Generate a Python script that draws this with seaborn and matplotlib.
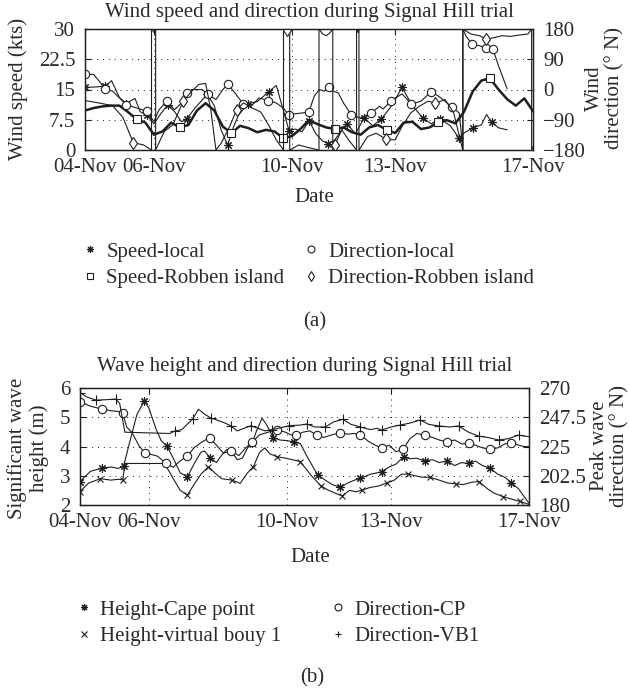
import numpy as np
import pandas as pd
import matplotlib
matplotlib.use('Agg')
import matplotlib.pyplot as plt
import matplotlib.dates as mdates
from matplotlib.lines import Line2D
import seaborn as sns

# ---- time base (days after 04-Nov) ----
start = pd.Timestamp('2008-11-04')
date_ticks = ['2008-11-04', '2008-11-06', '2008-11-10', '2008-11-13', '2008-11-17']

# ---- (a) wind ----
speed_local_t = [0.0, 0.25, 0.58, 0.77, 1.0, 1.2, 1.45, 1.6, 1.8, 2.0, 2.2, 2.4, 2.6, 2.8, 2.95,
                 3.2, 3.55, 3.75, 3.95, 4.14, 4.3, 4.45, 4.73, 5.0, 5.34, 5.55, 5.75, 5.92, 6.1,
                 6.3, 6.5, 6.7, 6.9, 7.05, 7.25, 7.45, 7.6, 7.85, 8.1, 8.35, 8.6, 8.9, 9.2, 9.5,
                 9.8, 10.05, 10.3, 10.6, 10.85, 11.0, 11.25, 11.5, 11.65, 11.8, 12.0, 12.25]
speed_local_v = [15.5, 15.6, 15.8, 17.2, 13.0, 11.5, 12.8, 9.5, 8.6, 6.5, 9.0, 11.2, 9.5, 7.0, 7.7,
                 10.5, 13.8, 11.0, 5.0, 1.2, 5.5, 8.6, 11.5, 12.0, 14.5, 16.0, 10.0, 4.8, 5.2,
                 4.5, 7.3, 4.0, 2.2, 1.6, 2.5, 5.0, 6.5, 4.0, 8.0, 6.0, 7.7, 11.0, 15.5, 11.0,
                 8.0, 6.5, 7.8, 6.0, 3.0, 4.2, 5.5, 6.2, 8.8, 6.9, 5.5, 5.0]
speed_local_marks = [0.0, 0.58, 1.2, 1.8, 2.4, 2.95, 3.55, 4.14, 4.73, 5.34, 5.92, 6.5, 7.05,
                     7.6, 8.1, 8.6, 9.2, 9.8, 10.3, 10.85, 11.25, 11.8]

speed_rob_t = np.arange(0, 13.01, 0.25)
speed_rob_v = [9.8, 10.4, 10.8, 11.0, 11.0, 9.4, 7.6, 6.8, 3.8, 4.6, 6.8, 5.6, 6.2, 9.8, 11.6,
               9.8, 5.8, 4.2, 6.0, 5.4, 4.4, 5.0, 4.6, 3.0, 3.4, 5.2, 7.4, 6.4, 5.6, 5.2, 5.6,
               4.4, 3.8, 5.6, 6.2, 5.0, 4.2, 6.8, 7.0, 5.2, 5.6, 6.9, 7.4, 6.6, 9.5, 14.5, 17.2,
               17.8, 15.0, 12.6, 11.0, 12.8, 9.6]
speed_rob_marks = [1.5, 2.75, 4.25, 5.75, 7.25, 8.75, 10.25, 11.75]

dir_local_t = [0.0, 0.25, 0.45, 0.58, 0.8, 1.0, 1.2, 1.5, 1.79, 2.0, 2.15, 2.37, 2.6, 2.8, 2.95,
               3.1, 3.4, 3.56, 3.8, 4.0, 4.15, 4.35, 4.59, 4.8, 5.05, 5.31, 5.55, 5.75, 5.92,
               6.1, 6.3, 6.5, 6.65, 6.8, 6.95, 7.08, 7.2, 7.35, 7.5, 7.73, 8.0, 8.3, 8.55, 8.65,
               8.89, 9.2, 9.47, 9.75, 10.05, 10.3, 10.66, 10.86, 10.97, 10.97, 11.05, 11.23,
               11.45, 11.64, 11.84, 12.0, 12.25]
dir_local_v = [45, 45, 20, 1, -5, -25, -45, -55, -65, -95, -60, -35, -60, -40, -10,
               0, 0, -14, -30, 0, 15, -10, -43, -52, -25, -33, -40, -55, -76,
               -72, -70, -66, -20, 0, -5, 7, -5, -10, -40, -76, -85, -70, -50, -58,
               -33, -13, -43, -35, -6, -23, -53, -70, -180, 180, 160, 134,
               130, 124, 120, 70, 2]
dir_local_marks = [0.0, 0.58, 1.2, 1.79, 2.37, 2.95, 3.56, 4.15, 4.59, 5.31, 5.92, 6.5, 7.08,
                   7.73, 8.3, 8.89, 9.47, 10.05, 10.66, 11.23, 11.64, 11.84]

dir_rob_t = [0.0, 0.4, 0.8, 1.1, 1.4, 1.7, 1.93, 1.93, 2.0, 2.05, 2.05, 2.3, 2.55, 2.85, 3.1,
             3.3, 3.5, 3.65, 3.8, 3.95, 4.2, 4.4, 4.6, 4.85, 5.1, 5.35, 5.55, 5.76, 5.76, 5.85,
             5.94, 5.94, 6.2, 6.45, 6.79, 6.79, 6.9, 7.0, 7.1, 7.19, 7.19, 7.25, 7.45, 7.65,
             7.88, 7.88, 7.92, 7.95, 7.95, 8.2, 8.45, 8.74, 9.0, 9.2, 9.45, 9.7, 9.95, 10.17,
             10.45, 10.7, 10.96, 10.96, 11.2, 11.45, 11.65, 11.9, 12.1, 12.35, 12.6, 12.85,
             12.96, 12.96, 13.0]
dir_rob_v = [-33, -40, -48, -83, -158, -165, -180, 180, 170, 180, -180, -125, -105, -35, -5,
             15, 18, -60, -180, -160, -110, -60, -40, -55, -67, -110, -150, -180, 180, 176,
             180, -180, -165, -172, -180, 180, 165, 160, 168, 180, -180, -165, -120, -150,
             -180, 180, 170, 180, -180, -140, -130, -148, -150, -110, -70, -50, -35, -40,
             -30, -70, -180, 180, 165, 160, 150, 155, 160, 158, 162, 165,
             180, -180, -170]
dir_rob_marks = [1.4, 2.85, 4.4, 5.85, 7.25, 8.74, 10.17, 11.65]

# ---- (b) waves ----
h_cp_t = [0.0, 0.3, 0.64, 0.9, 1.1, 1.26, 1.45, 1.65, 1.86, 2.0, 2.2, 2.35, 2.51, 2.7, 2.9, 3.11,
          3.3, 3.5, 3.6, 3.77, 3.95, 4.1, 4.25, 4.38, 4.55, 4.7, 4.85, 4.99, 5.1, 5.27, 5.4, 5.6,
          5.8, 6.0, 6.2, 6.38, 6.6, 6.88, 7.1, 7.3, 7.54, 7.75, 7.95, 8.12, 8.4, 8.6, 8.74, 8.95,
          9.15, 9.37, 9.55, 9.75, 9.99, 10.2, 10.4, 10.62, 10.85, 11.05, 11.25, 11.45, 11.65,
          11.88, 12.1, 12.3, 12.49, 12.7, 12.85, 13.0]
h_cp_v = [2.80, 3.15, 3.26, 3.30, 3.25, 3.32, 4.2, 5.1, 5.56, 5.3, 4.6, 4.2, 4.03, 3.6, 3.1, 2.96,
          3.4, 3.8, 3.85, 3.62, 3.45, 3.7, 3.9, 3.85, 3.55, 3.6, 3.95, 4.13, 4.5, 4.97, 4.75, 4.3,
          4.22, 4.2, 4.15, 4.1, 3.6, 3.03, 2.85, 2.7, 2.6, 2.75, 2.85, 2.91, 3.05, 3.1, 3.14, 3.3,
          3.4, 3.65, 3.58, 3.6, 3.5, 3.55, 3.45, 3.5, 3.35, 3.45, 3.42, 3.5, 3.35,
          3.25, 3.05, 2.95, 2.76, 2.55, 2.3, 2.06]
h_cp_marks = [0.0, 0.64, 1.26, 1.86, 2.51, 3.11, 3.77, 4.38, 4.99, 5.6, 6.2, 6.88, 7.54, 8.12,
              8.74, 9.37, 9.99, 10.62, 11.25, 11.88, 12.49]

h_vb_t = [0.0, 0.25, 0.59, 0.9, 1.1, 1.24, 1.3, 2.45, 2.7, 2.9, 3.11, 3.3, 3.5, 3.72, 3.9, 4.1,
          4.4, 4.64, 4.85, 5.02, 5.2, 5.35, 5.5, 5.7, 5.95, 6.15, 6.38, 6.7, 6.98, 7.2, 7.4, 7.59,
          7.8, 8.0, 8.16, 8.4, 8.65, 8.89, 9.1, 9.3, 9.5, 9.7, 9.9, 10.13, 10.4, 10.65, 10.9,
          11.1, 11.35, 11.55, 11.8, 12.0, 12.26, 12.5, 12.75, 13.0]
h_vb_v = [2.46, 2.75, 2.90, 2.85, 2.88, 2.86, 3.42, 3.42, 2.9, 2.5, 2.34, 2.7, 3.05, 3.31, 3.1, 2.9,
          2.85, 2.74, 3.1, 3.31, 3.8, 3.95, 3.75, 3.65, 3.6, 3.55, 3.48, 3.0, 2.65, 2.5, 2.4, 2.31,
          2.5, 2.45, 2.51, 2.6, 2.65, 2.76, 2.85, 3.05, 3.06, 3.0, 2.95, 2.95, 2.85, 2.75, 2.72,
          2.7, 2.78, 2.8, 2.55, 2.4, 2.28, 2.2, 2.12, 2.02]
h_vb_marks = [0.0, 0.59, 1.24, 3.11, 3.72, 4.4, 5.02, 5.7, 6.38, 6.98, 7.59, 8.16, 8.89, 9.5,
              10.13, 10.9, 11.55, 12.26, 12.75]

d_cp_t = [0.0, 0.3, 0.63, 0.9, 1.1, 1.24, 1.35, 1.5, 1.7, 1.88, 2.05, 2.25, 2.49, 2.7, 2.9, 3.11,
          3.3, 3.5, 3.75, 3.95, 4.15, 4.38, 4.6, 4.8, 4.99, 5.2, 5.45, 5.7, 5.95, 6.1, 6.26, 6.45,
          6.65, 6.86, 7.05, 7.3, 7.52, 7.75, 7.95, 8.12, 8.35, 8.55, 8.74, 8.95, 9.15, 9.36, 9.55,
          9.75, 9.99, 10.2, 10.4, 10.62, 10.85, 11.05, 11.25, 11.45, 11.65, 11.88, 12.1, 12.3,
          12.49, 12.7, 12.85, 13.0]
d_cp_v = [259.5, 256, 253.8, 252.5, 252, 250.8, 240, 236, 226, 219.7, 219, 217.5, 212, 209, 214,
          217.5, 224, 228, 231.8, 226, 220, 221.5, 218, 224, 228.5, 234, 236, 238, 236, 234, 233.5,
          236, 237, 233.8, 232, 234, 235.6, 234.5, 235, 233.8, 229, 226, 223.6, 226, 221, 222.8,
          231, 235, 233.8, 232, 230, 228.7, 230, 227, 227.4, 226, 224, 222.8, 224, 227,
          228, 226, 225, 224.9]
d_cp_marks = [0.0, 0.63, 1.24, 1.88, 2.49, 3.11, 3.75, 4.38, 4.99, 5.7, 6.26, 6.86, 7.52, 8.12,
              8.74, 9.36, 9.99, 10.62, 11.25, 11.88, 12.49]

d_vb_t = [0.0, 0.2, 0.47, 0.75, 1.04, 1.15, 1.3, 2.6, 2.75, 2.95, 3.1, 3.26, 3.43, 3.6, 3.78, 4.0,
          4.2, 4.36, 4.55, 4.75, 4.95, 5.15, 5.36, 5.55, 5.7, 5.9, 6.06, 6.38, 6.57, 6.8, 7.1,
          7.35, 7.61, 7.85, 8.12, 8.4, 8.6, 8.74, 9.0, 9.27, 9.55, 9.85, 10.1, 10.39, 10.7,
          10.96, 11.25, 11.54, 11.8, 12.12, 12.4, 12.7, 12.85, 13.0]
d_vb_v = [266.5, 263, 260.7, 261, 261.5, 258, 236, 235, 237, 238, 242, 246, 253.7, 250, 247, 245,
          243, 241, 237, 239, 241, 239, 237, 238, 238.7, 240, 241, 241.5, 242.3, 240, 240,
          244, 245.9, 242, 240, 238, 239, 237.7, 240, 241.5, 243, 245.4, 242, 240.8, 240,
          240.8, 236, 233, 232, 230, 231, 233.8, 233, 232.6]
d_vb_marks = [0.0, 0.47, 1.04, 2.75, 3.26, 3.78, 4.36, 4.95, 5.55, 6.06, 6.57, 7.1, 7.61, 8.12,
              8.74, 9.27, 9.85, 10.39, 10.96, 11.54, 12.12, 12.7]

wind_left_ticks = [0, 7.5, 15, 22.5, 30]
wind_left_labels = ['0', '7.5', '15', '22.5', '30']
wind_right_ticks = [-180, -90, 0, 90, 180]
wind_right_labels = ['\u2212180', '\u221290', '0', '90', '180']
wave_left_ticks = [2, 3, 4, 5, 6]
wave_right_ticks = [180, 202.5, 225, 247.5, 270]
wave_right_labels = ['180', '202.5', '225', '247.5', '270']

legend_a = ['Speed-local', 'Speed-Robben island', 'Direction-local', 'Direction-Robben island']
legend_b = ['Height-Cape point', 'Height-virtual bouy 1', 'Direction-CP', 'Direction-VB1']

# ---- style ----
sns.set_style('white')
plt.rcParams['font.family'] = ['Liberation Serif', 'DejaVu Serif']
plt.rcParams['font.size'] = 15
ink = '#1e1e1e'
txt = '#2a2a2a'
ASTER = (8, 2, 0)

W, H = 629, 693
fig = plt.figure(figsize=(W / 100, H / 100), dpi=100)
fig.patch.set_facecolor('white')


def to_dates(t):
    return start + pd.to_timedelta(np.asarray(t, dtype=float) * 24, unit='h')


def draw(ax, t, v, marks, marker, lw=0.8, ms=5.5):
    df = pd.DataFrame({'date': to_dates(t), 'value': v})
    idx = [int(i) for i in np.flatnonzero(np.isin(np.asarray(t, dtype=float), marks))]
    sns.lineplot(data=df, x='date', y='value', ax=ax, estimator=None, sort=False,
                 color=ink, linewidth=lw, marker=marker, markevery=idx, markersize=ms,
                 markerfacecolor='white', markeredgecolor=ink, markeredgewidth=0.8)


def frame(ax, axr, lt, ll, rt, rl):
    ax.set_xlim(start, start + pd.Timedelta(days=13))
    ax.set_xticks(pd.to_datetime(date_ticks))
    ax.xaxis.set_major_formatter(mdates.DateFormatter('%d-%b'))
    ax.set_ylim(lt[0], lt[-1])
    ax.set_yticks(lt)
    ax.set_yticklabels(ll)
    axr.set_ylim(rt[0], rt[-1])
    axr.set_yticks(rt)
    axr.set_yticklabels(rl)
    for a in (ax, axr):
        a.set_xlabel('')
        a.set_ylabel('')
        for s in a.spines.values():
            s.set_color(ink)
            s.set_linewidth(0.9)
    ax.grid(True, linestyle=(0, (1, 5)), color=ink, linewidth=0.7)
    ax.tick_params(axis='x', direction='in', length=4, width=0.8, top=True, pad=5.5,
                   labelsize=15, labelcolor=txt, color=ink)
    ax.tick_params(axis='y', direction='in', length=4, width=0.8, pad=7,
                   labelsize=15, labelcolor=txt, color=ink)
    axr.tick_params(axis='y', direction='in', length=4, width=0.8, pad=7.5,
                    labelsize=15, labelcolor=txt, color=ink)


def legend(handles, labels, x0, yc, colspace):
    fig.legend(handles, labels, loc='center left', bbox_to_anchor=(x0 / W, 1 - yc / H),
               ncol=2, frameon=False, handlelength=0.8, handletextpad=0.4,
               columnspacing=colspace, labelspacing=0.32, borderpad=0, borderaxespad=0,
               fontsize=15, labelcolor=txt)


def handle(m):
    return Line2D([], [], linestyle='none', marker=m, markersize=5, color=ink,
                  markerfacecolor='white', markeredgecolor=ink, markeredgewidth=0.8)


# ---- (a) ----
ax1 = fig.add_axes([85 / W, 1 - 150 / H, 448 / W, 121 / H])
ax1r = ax1.twinx()
draw(ax1, speed_local_t, speed_local_v, speed_local_marks, ASTER, ms=6)
draw(ax1, speed_rob_t, speed_rob_v, speed_rob_marks, 's', lw=1.8, ms=5.5)
draw(ax1r, dir_local_t, dir_local_v, dir_local_marks, 'o', ms=6)
draw(ax1r, dir_rob_t, dir_rob_v, dir_rob_marks, 'd', ms=6.5)
frame(ax1, ax1r, wind_left_ticks, wind_left_labels, wind_right_ticks, wind_right_labels)

fig.text(309 / W, 1 - 13 / H, 'Wind speed and direction during Signal Hill trial',
         ha='center', va='center', color=txt)
fig.text(18 / W, 1 - 89 / H, 'Wind speed (kts)', rotation=90, ha='center', va='center', color=txt)
fig.text(605 / W, 1 - 88 / H, 'Wind\ndirection (\u00b0 N)', rotation=90, ha='center', va='center',
         multialignment='center', linespacing=1.05, color=txt)
fig.text(314 / W, 1 - 198 / H, 'Date', ha='center', va='center', color=txt)
legend([handle(ASTER), handle('s'), handle('o'), handle('d')], legend_a, 81.5, 265, 0.88)
fig.text(315 / W, 1 - 322 / H, '(a)', ha='center', va='center', color=txt)

# ---- (b) ----
ax2 = fig.add_axes([80 / W, 1 - 505 / H, 449 / W, 117 / H])
ax2r = ax2.twinx()
draw(ax2, h_cp_t, h_cp_v, h_cp_marks, ASTER, ms=6)
draw(ax2, h_vb_t, h_vb_v, h_vb_marks, 'x', ms=5)
draw(ax2r, d_cp_t, d_cp_v, d_cp_marks, 'o', ms=6)
draw(ax2r, d_vb_t, d_vb_v, d_vb_marks, '+', ms=7)
frame(ax2, ax2r, wave_left_ticks, [str(v) for v in wave_left_ticks],
      wave_right_ticks, wave_right_labels)

fig.text(305 / W, 1 - 366 / H, 'Wave height and direction during Signal Hill trial',
         ha='center', va='center', color=txt)
fig.text(28 / W, 1 - 448 / H, 'Significant wave\nheight (m)', rotation=90, ha='center',
         va='center', multialignment='center', linespacing=1.1, color=txt)
fig.text(610 / W, 1 - 446 / H, 'Peak wave\ndirection (\u00b0 N)', rotation=90, ha='center',
         va='center', multialignment='center', linespacing=1.1, color=txt)
fig.text(310 / W, 1 - 557 / H, 'Date', ha='center', va='center', color=txt)
legend([handle(ASTER), handle('x'), handle('o'), handle('+')], legend_b, 75.5, 623, 2.3)
fig.text(312 / W, 1 - 678 / H, '(b)', ha='center', va='center', color=txt)

fig.savefig('out.png', dpi=100, facecolor='white')
